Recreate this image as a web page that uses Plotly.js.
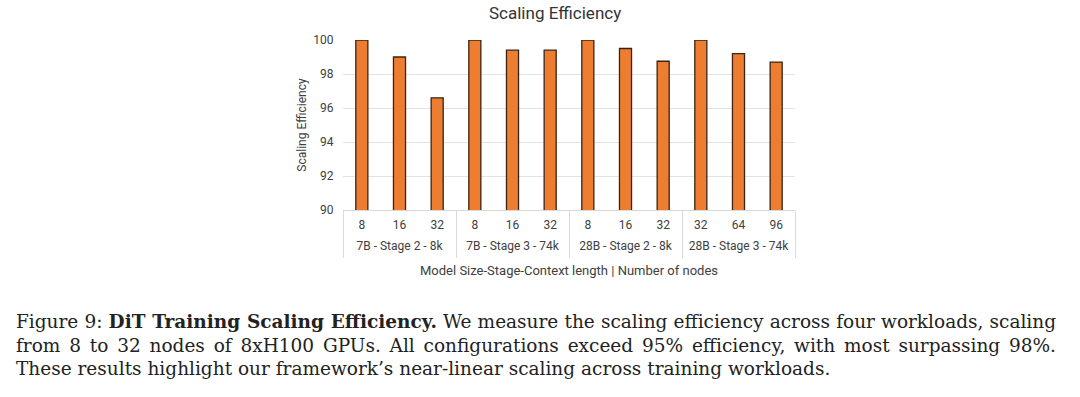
<!DOCTYPE html>
<html>
<head>
<meta charset="utf-8">
<script src="https://cdn.plot.ly/plotly-3.0.1.min.js"></script>
<style>
  html, body { margin: 0; padding: 0; background: #fff; width: 1080px; height: 397px; overflow: hidden; }
  #chart { width: 1080px; height: 290px; }
  #caption { position: absolute; left: 16px; top: 310px; width: 1040px; font-family: "DejaVu Serif", serif; font-size: 18.5px; line-height: 23.5px; color: #222; }
  .j { text-align: justify; text-align-last: justify; white-space: nowrap; }
</style>
</head>
<body>
<div id="chart"></div>
<div id="caption">
  <div class="j">Figure 9: <b>DiT Training Scaling Efficiency.</b> We measure the scaling efficiency across four workloads, scaling</div>
  <div class="j">from 8 to 32 nodes of 8xH100 GPUs. All configurations exceed 95% efficiency, with most surpassing 98%.</div>
  <div>These results highlight our framework’s near-linear scaling across training workloads.</div>
</div>
<script>
const groups = ["7B - Stage 2 - 8k", "7B - Stage 2 - 8k", "7B - Stage 2 - 8k",
                "7B - Stage 3 - 74k", "7B - Stage 3 - 74k", "7B - Stage 3 - 74k",
                "28B - Stage 2 - 8k", "28B - Stage 2 - 8k", "28B - Stage 2 - 8k",
                "28B - Stage 3 - 74k", "28B - Stage 3 - 74k", "28B - Stage 3 - 74k"];
const nodes = ["8", "16", "32", "8", "16", "32", "8", "16", "32", "32", "64", "96"];
const efficiency = [100, 99.0, 96.6, 100, 99.4, 99.4, 100, 99.5, 98.75, 100, 99.2, 98.7];
const yTicks = [90, 92, 94, 96, 98, 100];

// derived helpers for the axes
const keys = groups.map((g, i) => g + ' | ' + nodes[i]);
const groupNames = [...new Set(groups)];
const groupFirst = groupNames.map(g => groups.indexOf(g));
const groupLast = groupNames.map(g => groups.lastIndexOf(g));
const groupCenters = groupNames.map((g, k) => (groupFirst[k] + groupLast[k]) / 2);
const dividers = [groupFirst[0] - 0.5].concat(groupLast.map(i => i + 0.5));
const xRange = [-0.5, keys.length - 0.5];

const font = 'Roboto, sans-serif';
const txt = '#404040';
const trace = {
  type: 'bar',
  x: keys,
  y: efficiency,
  marker: { color: '#ED7D31', line: { color: '#3b2414', width: 1.3 } },
  hoverinfo: 'none'
};
// invisible helper traces so the overlay axes are drawn
const helper2 = { type: 'scatter', x: [xRange[0]], y: [90], xaxis: 'x2', mode: 'markers', marker: { opacity: 0 }, hoverinfo: 'none' };
const helper3 = { type: 'scatter', x: [xRange[0]], y: [90], xaxis: 'x3', mode: 'markers', marker: { opacity: 0 }, hoverinfo: 'none' };

const layout = {
  width: 1080, height: 290,
  margin: { l: 343, r: 285, t: 40, b: 80 },
  paper_bgcolor: '#fff', plot_bgcolor: '#fff',
  bargap: 0.68,
  showlegend: false,
  font: { family: font, size: 12, color: txt },
  xaxis: {
    type: 'category',
    range: xRange,
    tickvals: keys, ticktext: nodes,
    showgrid: false,
    showline: true, linecolor: '#d9d9d9', linewidth: 1,
    ticks: '',
    ticklabelstandoff: 4,
    tickfont: { family: font, size: 12, color: txt }
  },
  xaxis2: {
    type: 'linear', overlaying: 'x', side: 'bottom', anchor: 'y',
    range: xRange,
    tickvals: dividers, showticklabels: false,
    ticks: 'outside', ticklen: 47, tickwidth: 1, tickcolor: '#d9d9d9',
    showgrid: false, zeroline: false, showline: false
  },
  xaxis3: {
    type: 'linear', overlaying: 'x', side: 'bottom', anchor: 'y',
    range: xRange,
    tickvals: groupCenters, ticktext: groupNames,
    ticks: '', ticklabelstandoff: 27,
    tickfont: { family: font, size: 12, color: txt },
    showgrid: false, zeroline: false, showline: false,
    title: { text: 'Model Size-Stage-Context length | Number of nodes', font: { family: font, size: 13, color: txt }, standoff: 13 }
  },
  yaxis: {
    range: [90, 100],
    tickvals: yTicks,
    ticktext: yTicks.map(String),
    showgrid: true, gridcolor: '#e3e3e3', gridwidth: 1,
    zeroline: false, showline: false,
    ticks: 'outside', ticklen: 6, tickcolor: 'rgba(0,0,0,0)',
    tickfont: { family: font, size: 12, color: txt },
    title: { text: 'Scaling Efficiency', font: { family: font, size: 12, color: txt }, standoff: 4 }
  },
  annotations: [{
    text: 'Scaling Efficiency', xref: 'paper', yref: 'paper', x: 0.47, y: 1, yshift: 27,
    showarrow: false, font: { family: font, size: 17, color: '#333333' }, xanchor: 'center', yanchor: 'middle'
  }]
};
Plotly.newPlot('chart', [trace, helper2, helper3], layout, { staticPlot: true, displayModeBar: false });
</script>
</body>
</html>
